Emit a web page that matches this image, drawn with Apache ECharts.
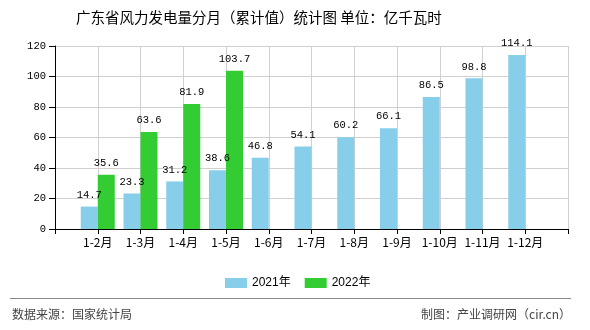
<!DOCTYPE html>
<html>
<head>
<meta charset="utf-8">
<script src="https://cdn.jsdelivr.net/npm/echarts@6/dist/echarts.min.js"></script>
<style>
html,body{margin:0;padding:0;background:#fff;}
#chart{width:590px;height:330px;}
</style>
</head>
<body>
<div id="chart"></div>
<script>
var categories = ['1-2月','1-3月','1-4月','1-5月','1-6月','1-7月','1-8月','1-9月','1-10月','1-11月','1-12月'];
var values2021 = [14.7, 23.3, 31.2, 38.6, 46.8, 54.1, 60.2, 66.1, 86.5, 98.8, 114.1];
var values2022 = [35.6, 63.6, 81.9, 103.7];
var yTicks = [0, 20, 40, 60, 80, 100, 120];
var seriesNames = ['2021年', '2022年'];

// pad with empty slots at both ends so labels sit on ticks (boundaryGap false)
var axisData = [''].concat(categories).concat(['']);
function pad(arr) {
  var out = ['-'];
  for (var i = 0; i < categories.length; i++) out.push(i < arr.length ? arr[i] : '-');
  out.push('-');
  return out;
}

var numFont = '"Liberation Mono", monospace';
var cjkFont = '"Noto Sans CJK SC", sans-serif';

var chart = echarts.init(document.getElementById('chart'), null, {renderer: 'canvas'});
var labelCfg = {
  show: true, position: 'top', distance: 6,
  color: '#000', fontFamily: numFont, fontSize: 10.5,
  formatter: function (p) { return p.value.toFixed(1); }
};
chart.setOption({
  animation: false,
  backgroundColor: '#fff',
  title: {
    text: '广东省风力发电量分月（累计值）统计图 单位：亿千瓦时',
    left: 76, top: 10, padding: 0,
    textStyle: {fontFamily: cjkFont, fontSize: 14.5, fontWeight: 'normal', color: '#000'}
  },
  grid: {left: 55, right: 22, top: 46, bottom: 101, containLabel: false},
  legend: {
    data: seriesNames,
    left: 220, top: 272,
    itemWidth: 22, itemHeight: 10, itemGap: 14,
    icon: 'rect',
    textStyle: {fontFamily: '"Liberation Sans", "Noto Sans CJK SC", sans-serif', fontSize: 12, color: '#000'}
  },
  xAxis: {
    type: 'category',
    data: axisData,
    boundaryGap: false,
    axisLine: {lineStyle: {color: '#000', width: 1}},
    axisTick: {show: true, interval: 0, length: 5, lineStyle: {color: '#000'}},
    axisLabel: {interval: 0, margin: 7, color: '#000', fontFamily: cjkFont, fontSize: 12},
    splitLine: {show: true, interval: 0, lineStyle: {color: '#d0d0d0', width: 1}}
  },
  yAxis: {
    type: 'value',
    min: yTicks[0], max: yTicks[yTicks.length - 1], interval: 20,
    axisLine: {show: true, lineStyle: {color: '#000', width: 1}},
    axisTick: {show: true, length: 6, lineStyle: {color: '#000'}},
    axisLabel: {margin: 9, color: '#000', fontFamily: numFont, fontSize: 10.5},
    splitLine: {show: true, lineStyle: {color: '#d0d0d0', width: 1}}
  },
  series: [
    {
      name: seriesNames[0], type: 'bar', data: pad(values2021),
      barWidth: 17, barGap: '0%',
      itemStyle: {color: '#87CEEB'},
      label: labelCfg
    },
    {
      name: seriesNames[1], type: 'bar', data: pad(values2022),
      barWidth: 17, barGap: '0%',
      itemStyle: {color: '#33CC33'},
      label: labelCfg
    }
  ],
  graphic: [
    {type: 'line', shape: {x1: 10, y1: 298.5, x2: 571, y2: 298.5}, style: {stroke: '#888', lineWidth: 1}},
    {type: 'text', left: 12, top: 308, style: {text: '数据来源：国家统计局', fontFamily: cjkFont, fontSize: 12, fill: '#444'}},
    {type: 'text', right: 19, top: 308, style: {text: '制图：产业调研网（cir.cn）', fontFamily: cjkFont, fontSize: 12, fill: '#444'}}
  ]
});
</script>
</body>
</html>
